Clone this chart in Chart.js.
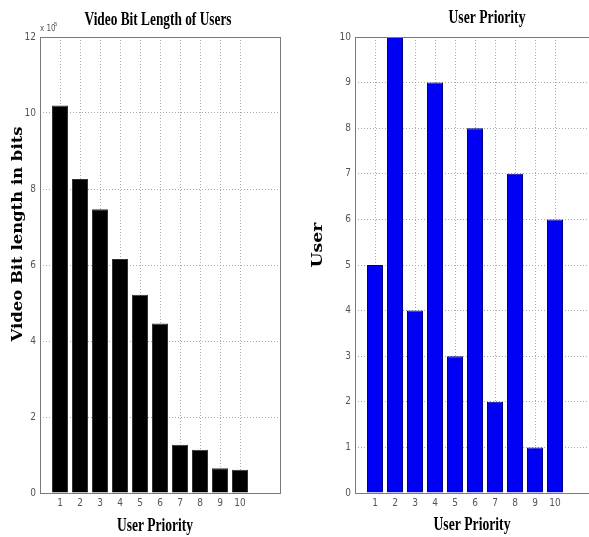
<!DOCTYPE html>
<html>
<head>
<meta charset="utf-8">
<script src="https://cdn.jsdelivr.net/npm/chart.js@4/dist/chart.umd.min.js"></script>
<style>
  html, body { margin: 0; padding: 0; background: #fff; overflow: hidden; width: 589px; height: 537px; }
  canvas { position: absolute; top: 0; }
  #bitChart { left: 0; }
  #rankChart { left: 300px; }
</style>
</head>
<body>
<canvas id="bitChart" width="300" height="537"></canvas>
<canvas id="rankChart" width="300" height="537"></canvas>
<script>
// User priorities on the horizontal axis of both panels
const priorities = [1, 2, 3, 4, 5, 6, 7, 8, 9, 10];
// Video bit length per user, in bits
const bitLengths = [1020000, 826000, 747000, 616000, 522000, 446000, 127000, 114000, 65000, 61000];
// User index assigned to each priority
const userByPriority = [5, 10, 4, 9, 3, 8, 2, 7, 1, 6];
// Axis ranges
const bitAxisMax = 1200000;
const bitAxisStep = 200000;
const bitScaleExp = 5;          // ticks shown as multiples of 10^5
const userAxisMax = 10;
const priorityAxisMax = 12;

const tickFont = { family: '"Liberation Sans Narrow", "DejaVu Sans Condensed", "Liberation Sans", sans-serif', size: 10 };
const tickColor = '#555';
const gridColor = '#a8a8a8';

// Draws free text (titles, axis labels, exponent) at fixed spots, optionally condensed to a width
const textLayer = {
  id: 'textLayer',
  afterDraw(chart, args, opts) {
    const ctx = chart.ctx;
    (opts.items || []).forEach(it => {
      ctx.save();
      ctx.font = it.font;
      ctx.fillStyle = it.color || '#000';
      ctx.textAlign = it.align || 'center';
      ctx.textBaseline = 'middle';
      ctx.translate(it.x, it.y);
      if (it.rotate) ctx.rotate(it.rotate);
      if (it.width) {
        const w = ctx.measureText(it.text).width;
        ctx.scale(it.width / w, 1);
      }
      ctx.fillText(it.text, 0, 0);
      ctx.restore();
    });
  }
};

// Box around the plot area
const plotFrame = {
  id: 'plotFrame',
  afterDraw(chart) {
    const a = chart.chartArea;
    const ctx = chart.ctx;
    ctx.save();
    ctx.strokeStyle = '#7a7a7a';
    ctx.lineWidth = 1;
    ctx.strokeRect(Math.round(a.left) + 0.5, Math.round(a.top) + 0.5, Math.round(a.right - a.left), Math.round(a.bottom - a.top));
    ctx.restore();
  }
};

function priorityAxis() {
  return {
    type: 'linear',
    min: 0,
    max: priorityAxisMax,
    offset: false,
    grid: { offset: false, color: gridColor, drawTicks: false },
    border: { display: false, dash: [1, 2] },
    ticks: { stepSize: 1, font: tickFont, color: tickColor, padding: 4 },
    afterBuildTicks: s => { s.ticks = s.ticks.filter(t => priorities.includes(t.value)); },
    afterFit: s => { s.height = 44; }
  };
}

function baseOptions(yAxis, pad, items) {
  return {
    responsive: false,
    animation: false,
    events: [],
    layout: { padding: pad },
    plugins: {
      legend: { display: false },
      tooltip: { enabled: false },
      title: { display: false },
      textLayer: { items }
    },
    scales: { x: priorityAxis(), y: yAxis }
  };
}

const titleFont = 'bold 19px "Liberation Serif", "Times New Roman", serif';
const sideFont = 'bold 14px "DejaVu Serif", serif';

new Chart(document.getElementById('bitChart'), {
  type: 'bar',
  data: {
    datasets: [{
      data: priorities.map((p, i) => ({ x: p, y: bitLengths[i] })),
      backgroundColor: '#000',
      borderColor: '#333',
      borderWidth: 1,
      barPercentage: 0.8,
      categoryPercentage: 1
    }]
  },
  options: baseOptions({
    min: 0,
    max: bitAxisMax,
    grid: { color: gridColor, drawTicks: false },
    border: { display: false, dash: [1, 2] },
    ticks: {
      stepSize: bitAxisStep,
      font: tickFont, color: tickColor, padding: 4,
      callback: v => String(v / Math.pow(10, bitScaleExp))
    },
    afterFit: s => { s.width = 40; }
  }, { top: 37, right: 20, left: 0, bottom: 0 }, [
    { text: 'Video Bit Length of Users', x: 158, y: 20, width: 147, font: titleFont },
    { text: 'User Priority', x: 155, y: 526, width: 76, font: titleFont },
    { text: 'Video Bit length in bits', x: 18, y: 234, width: 215, rotate: -Math.PI / 2, font: sideFont },
    { text: 'x 10', x: 40, y: 29, align: 'left', font: '8px "Liberation Sans Narrow", "DejaVu Sans Condensed", sans-serif', color: '#555' },
    { text: String(bitScaleExp), x: 54, y: 24, align: 'left', font: '6px "Liberation Sans", sans-serif', color: '#555' }
  ]),
  plugins: [textLayer, plotFrame]
});

new Chart(document.getElementById('rankChart'), {
  type: 'bar',
  data: {
    datasets: [{
      data: priorities.map((p, i) => ({ x: p, y: userByPriority[i] })),
      backgroundColor: '#0000f4',
      borderColor: '#00008a',
      borderWidth: 1,
      barPercentage: 0.8,
      categoryPercentage: 1
    }]
  },
  options: baseOptions({
    min: 0,
    max: userAxisMax,
    grid: { color: gridColor, drawTicks: false },
    border: { display: false, dash: [1, 2] },
    ticks: { stepSize: 1, font: tickFont, color: tickColor, padding: 4 },
    afterFit: s => { s.width = 55; }
  }, { top: 37, right: 5, left: 0, bottom: 0 }, [
    { text: 'User Priority', x: 187, y: 18, width: 77, font: titleFont },
    { text: 'User Priority', x: 172, y: 525, width: 77, font: titleFont },
    { text: 'User', x: 18, y: 245, width: 45, rotate: -Math.PI / 2, font: sideFont }
  ]),
  plugins: [textLayer, plotFrame]
});
</script>
</body>
</html>
